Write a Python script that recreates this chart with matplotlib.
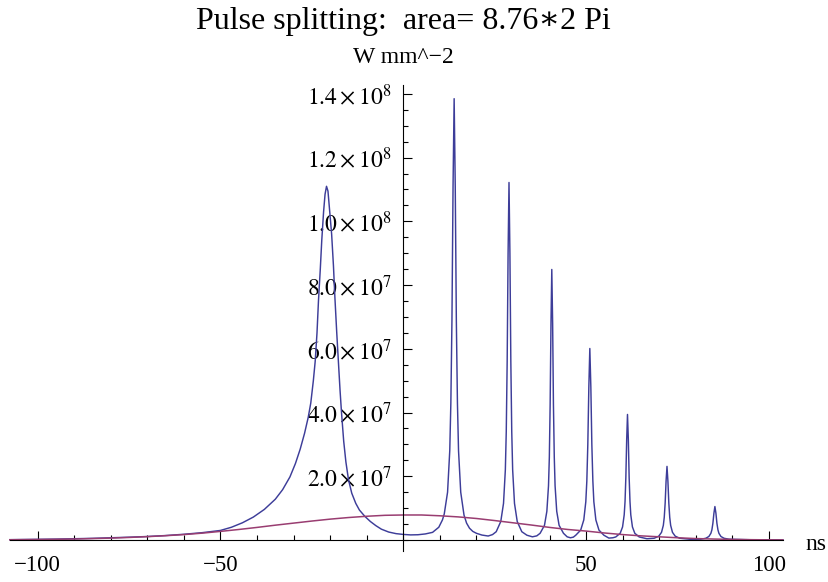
import matplotlib
matplotlib.use('Agg')
import numpy as np
import matplotlib.pyplot as plt
from matplotlib.ticker import FixedLocator, MultipleLocator

# blue curve: pulse intensity, W mm^-2 in units of 1e6, time in ns
tail_ns = [-107.6, -100, -95, -90, -85, -80, -75, -70, -65, -60, -55, -50, -47, -44, -41, -38, -35]
tail_v = [0.1, 0.2, 0.28, 0.4, 0.52, 0.7, 0.88, 1.1, 1.4, 1.8, 2.3, 3.0, 4.0, 5.4, 7.2, 9.6, 12.8]

broad_ns = [-33, -31, -29.5, -28.2, -27, -26, -25.3, -24.6, -24.1, -23.6, -23.2,
            -22.7, -22.3, -21.8, -21.4, -21.0, -20.6, -20.2, -19.6, -19.1, -18.7, -18.2, -17.7,
            -17.3, -16.9, -16.3, -15.7, -15.0, -14.1, -13, -12, -10.5, -9, -7.5, -6, -4, -2,
            0, 2, 4, 6, 8, 9.7, 10.7, 11.2]
broad_v = [15.8, 19.8, 24, 28.5, 33.5, 38.5, 43, 50, 56, 65, 75,
           85, 94, 103, 108.5, 111, 109.5, 104, 96, 86, 76, 65, 55,
           47, 40, 31, 24.5, 19.0, 14.7, 11.5, 9.4, 7.4, 5.8, 4.5, 3.4, 2.5, 2.0,
           1.75, 1.6, 1.65, 1.9, 2.4, 4.0, 6.3, 8.2]

spikes_ns = [12.1, 12.7, 13.0, 13.3, 13.6, 13.9, 14.2, 14.5, 14.8, 15.1, 15.7, 16.6, 17.3, 18.1, 19, 20,
             21.5, 23.2, 24.4, 25.4,
             26.65, 27.4, 27.9, 28.15, 28.4, 28.65, 28.9, 29.15, 29.4, 29.65, 29.9, 30.4, 31.15, 32.4,
             33.8, 35.3, 36.5, 37.4,
             38.6, 39.25, 39.7, 39.93, 40.15, 40.38, 40.6, 40.83, 41.05, 41.28, 41.5, 41.95, 42.6, 43.8,
             44.8, 45.7, 46.5, 47.15,
             48.5, 49.35, 49.9, 50.18, 50.45, 50.73, 51.0, 51.28, 51.55, 51.83, 52.1, 52.65, 53.5, 54.85,
             56.2, 57.3, 58.1,
             59.3, 59.95, 60.4, 60.63, 60.85, 61.08, 61.3, 61.53, 61.75, 61.98, 62.2, 62.65, 63.3, 64.5,
             66.6, 68.6,
             69.85, 70.6, 71.1, 71.35, 71.6, 71.85, 72.1, 72.35, 72.6, 72.85, 73.1, 73.6, 74.35, 75.6,
             78.6, 81.35,
             82.7, 83.55, 84.1, 84.38, 84.65, 84.93, 85.2, 85.48, 85.75, 86.03, 86.3, 86.85, 87.7, 89.05,
             95, 103.8]
spikes_v = [15, 28, 43, 69, 111, 138.5, 111, 69, 43, 28, 15, 7.8, 5.3, 3.7, 2.7, 2.1,
            1.55, 1.25, 1.7, 2.6,
            5.8, 11.5, 22, 34, 56, 90, 112.2, 90, 56, 34, 22, 11.5, 5.8, 2.6,
            1.5, 1.0, 1.3, 2.1,
            4.6, 9.0, 17, 26, 42.5, 68, 84.9, 68, 42.5, 26, 17, 9, 4.6, 2.1,
            1.0, 0.7, 0.9, 1.5,
            3.1, 6.3, 12, 18.5, 30, 48, 60.1, 48, 30, 18.5, 12, 6.3, 3.1, 1.5,
            0.6, 0.7, 0.96,
            2.1, 4.1, 7.9, 12.1, 19.7, 31.5, 39.4, 31.5, 19.7, 12.1, 7.9, 4.1, 2.1, 0.96,
            0.4, 0.55,
            1.2, 2.4, 4.6, 7.1, 11.6, 18.5, 23.1, 18.5, 11.6, 7.1, 4.6, 2.4, 1.2, 0.55,
            0.2, 0.25,
            0.54, 1.1, 2.1, 3.2, 5.25, 8.4, 10.5, 8.4, 5.25, 3.2, 2.1, 1.1, 0.54, 0.25,
            0.08, 0.03]

# magenta curve: input pulse
input_ns = [-107.6, -100, -95, -90, -85, -80, -75, -70, -65, -60, -55, -50, -45, -40, -35, -30, -25,
            -20, -15, -10, -5, 0, 5, 10, 15, 20, 25, 30, 35, 40, 45, 50, 55, 60, 65, 70, 75, 80,
            85, 90, 95, 100, 103.8]
input_v = [0.08, 0.15, 0.22, 0.3, 0.45, 0.6, 0.8, 1.05, 1.35, 1.7, 2.15, 2.7, 3.3, 3.95, 4.65, 5.3, 5.95,
           6.55, 7.05, 7.45, 7.75, 7.85, 7.85, 7.6, 7.25, 6.75, 6.1, 5.4, 4.7, 3.95, 3.3, 2.8, 2.2,
           1.7, 1.3, 1.0, 0.7, 0.45, 0.3, 0.18, 0.1, 0.05, 0.03]

xticks = [-100, -50, 50, 100]
xlabels = ['\u2212100', '\u221250', '50', '100']
yticks = [20, 40, 60, 80, 100, 120, 140]
ylabels = [r'$2.0\times10^{7}$', r'$4.0\times10^{7}$', r'$6.0\times10^{7}$', r'$8.0\times10^{7}$',
           r'$1.0\times10^{8}$', r'$1.2\times10^{8}$', r'$1.4\times10^{8}$']

plt.rcParams['font.family'] = ['Liberation Serif', 'DejaVu Serif']
plt.rcParams['mathtext.fontset'] = 'stix'

fig = plt.figure(figsize=(8.29, 5.82), dpi=100)
ax = fig.add_axes([0.01182, 0.0530, 0.9326, 0.8010])

blue_ns = np.concatenate([tail_ns, broad_ns, spikes_ns])
blue_v = np.concatenate([tail_v, broad_v, spikes_v])
ax.plot(blue_ns, blue_v, color='#3d3d99', lw=1.05, solid_joinstyle='round', clip_on=False)
ax.plot(input_ns, input_v, color='#993d71', lw=1.1, solid_joinstyle='round', clip_on=False)

ax.set_xlim(-107.6, 103.8)
ax.set_ylim(-3.5, 142.8)
for s in ['top', 'right']:
    ax.spines[s].set_visible(False)
ax.spines['left'].set_position(('data', 0))
ax.spines['bottom'].set_position(('data', 0))
for s in ['left', 'bottom']:
    ax.spines[s].set_linewidth(0.8)

ax.xaxis.set_major_locator(FixedLocator(xticks))
ax.set_xticklabels(xlabels, fontsize=16.5)
ax.xaxis.set_minor_locator(MultipleLocator(10))
ax.yaxis.set_major_locator(FixedLocator(yticks))
ax.set_yticklabels(ylabels, fontsize=17)
ax.yaxis.set_minor_locator(MultipleLocator(5))
ax.tick_params(which='both', direction='in', width=0.8, color='black')
ax.tick_params(which='major', length=6.5)
ax.tick_params(which='minor', length=3.8)
ax.tick_params(axis='x', pad=11)
ax.tick_params(axis='y', pad=8.5)

ax.annotate('ns', xy=(1, 0), xycoords=('axes fraction', 'data'), xytext=(16, -3),
            textcoords='offset points', ha='left', va='center', fontsize=17)
fig.text(403.5 / 829, 1 - 63 / 582, 'W mm^\u22122', ha='center', va='baseline', fontsize=17)
fig.text(403 / 829, 1 - 29 / 582, 'Pulse splitting:  area= 8.76\u22172 Pi', ha='center',
         va='baseline', fontsize=23)

fig.savefig('out.png', dpi=100)
